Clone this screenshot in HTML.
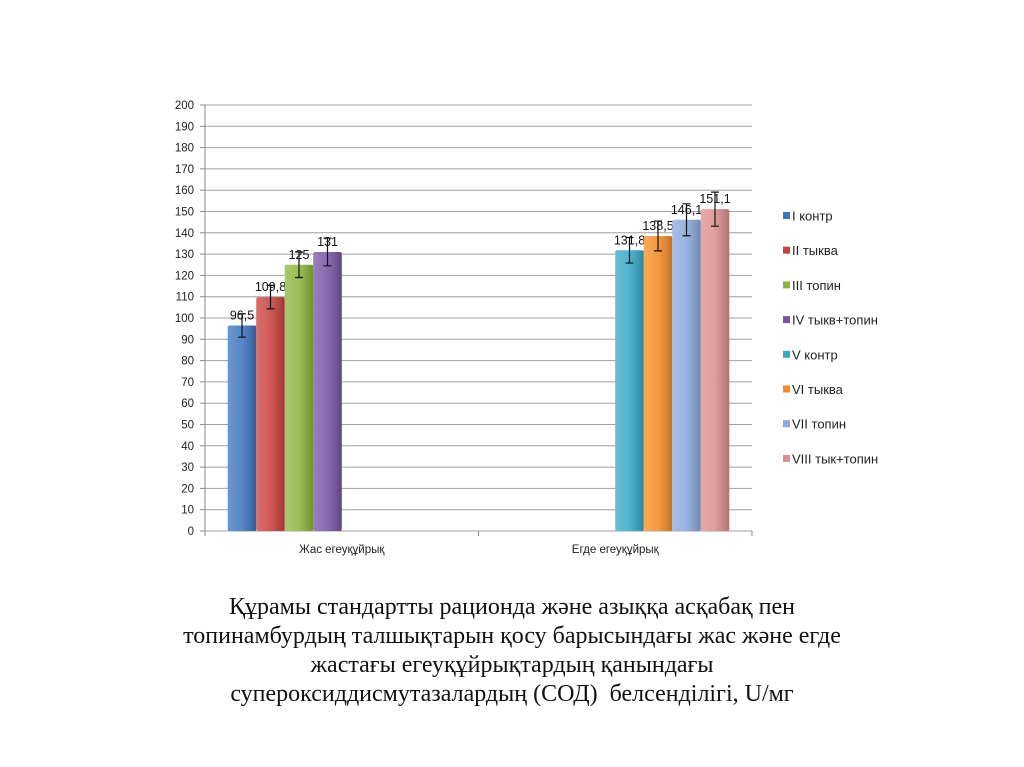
<!DOCTYPE html>
<html><head><meta charset="utf-8"><style>
body{margin:0;background:#fff;width:1024px;height:767px;overflow:hidden;font-family:"Liberation Sans",sans-serif}
#cap{position:absolute;left:0;width:1024px;top:593px;text-align:center;font-family:"Liberation Serif",serif;font-size:24px;line-height:29px;color:#111}
</style></head><body>
<svg id="chart" width="1024" height="590" style="position:absolute;left:0;top:0" font-family="Liberation Sans, sans-serif">
<defs>
<linearGradient id="sh" x1="0" x2="1"><stop offset="0" stop-color="#fff" stop-opacity="0.25"/><stop offset="0.45" stop-color="#fff" stop-opacity="0.15"/><stop offset="1" stop-color="#000" stop-opacity="0.2"/></linearGradient>
</defs>
<g id="grid"></g><g id="bars"></g><g id="legend"></g>
</svg>
<div id="cap">Құрамы стандартты рационда және азыққа асқабақ пен<br>топинамбурдың талшықтарын қосу барысындағы жас және егде<br>жастағы егеуқұйрықтардың қанындағы<br>супероксиддисмутазалардың (СОД)&nbsp; белсенділігі, U/мг</div>
<script>
const categories=["Жас егеуқұйрық","Егде егеуқұйрық"];
const seriesNames=["I контр","II тыква","III топин","IV тыкв+топин","V контр","VI тыква","VII топин","VIII тык+топин"];
const seriesCat=[0,0,0,0,1,1,1,1];
const values=[96.5,109.8,125,131,131.8,138.5,146.1,151.1];
const labels=["96,5","109,8","125","131","131,8","138,5","146,1","151,1"];
const errors=[5.5,5.5,6,6.5,6,7,7.5,8];
const colors=["#3b74c0","#c9403c","#8db43e","#7654a3","#35a8c6","#f58b25","#8aa8dc","#dc8e8d"];
const yTicks=[];for(let v=0;v<=200;v+=10)yTicks.push(v);
const NS="http://www.w3.org/2000/svg";
const X0=205,X1=752,Y0=531,Y1=105;
const y=v=>Y0-(v/200)*(Y0-Y1);
const catW=(X1-X0)/categories.length, bw=28.5, gap=(catW-8*bw)/2;
const x=(i)=>X0+seriesCat[i]*catW+gap+i*bw;
function mk(t,a,p){const e=document.createElementNS(NS,t);for(const k in a)e.setAttribute(k,a[k]);p.appendChild(e);return e;}
const g=document.getElementById('grid');
yTicks.forEach(v=>{
 const l=mk('line',{x1:X0,x2:X1,y1:y(v),y2:y(v),stroke:'#a0a0a0','stroke-width':1},g);
 
 
 mk('line',{x1:X0-5,x2:X0,y1:y(v),y2:y(v),stroke:'#888'},g);
 const t=mk('text',{x:X0-11,y:y(v)+4,'text-anchor':'end','font-size':11.5,fill:'#222'},g);t.textContent=v;
 
 
});
mk('line',{x1:X0,x2:X0,y1:Y1,y2:Y0,stroke:'#888'},g);
categories.forEach((c,i)=>{
 mk('line',{x1:X0+i*catW,x2:X0+i*catW,y1:Y0,y2:Y0+5,stroke:'#888'},g);
 const t=mk('text',{x:X0+(i+0.5)*catW,y:Y0+22,'text-anchor':'middle','font-size':11.5,fill:'#222'},g);t.textContent=c;
 
 
});
mk('line',{x1:X1,x2:X1,y1:Y0,y2:Y0+5,stroke:'#888'},g);
const b=document.getElementById('bars');
values.forEach((v,i)=>{
 const r=mk('rect',{x:x(i),y:y(v),width:bw,height:Y0-y(v),fill:colors[i],rx:2},b);
 
 
 mk('rect',{x:x(i),y:y(v),width:bw,height:Y0-y(v),fill:'url(#sh)',rx:2},b);
 const cx=x(i)+bw/2,e=errors[i];
 const eb=mk('path',{d:`M${cx} ${y(v+e)}V${y(v-e)}M${cx-4} ${y(v+e)}H${cx+4}M${cx-4} ${y(v-e)}H${cx+4}`,stroke:'#111','stroke-width':1.2,fill:'none'},b);
 
 
 const t=mk('text',{x:cx,y:y(v)-6,'text-anchor':'middle','font-size':12.5,fill:'#111'},b);t.textContent=labels[i];
 
 
});
const lg=document.getElementById('legend');
seriesNames.forEach((n,i)=>{
 const ly=216+i*34.7;
 const it=mk('g',{},lg);
 
 
 mk('rect',{x:783,y:ly-4,width:7,height:7,fill:colors[i]},it);
 const t=mk('text',{x:792,y:ly+4.5,'font-size':13,fill:'#222'},it);t.textContent=n;
});
</script>
</body></html>
